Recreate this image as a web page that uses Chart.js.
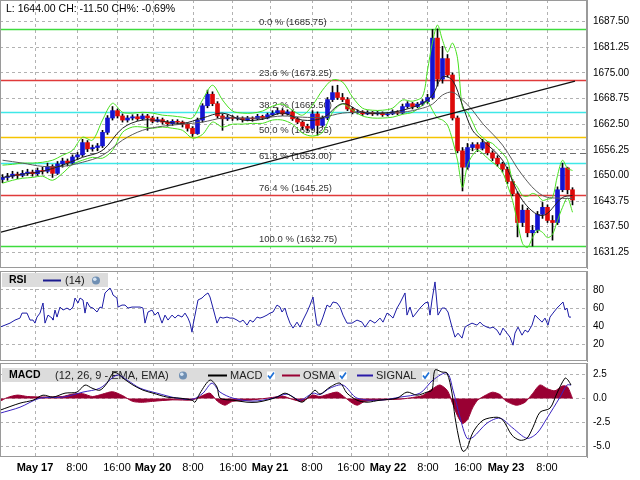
<!DOCTYPE html>
<html>
<head>
<meta charset="utf-8">
<script src="https://cdn.jsdelivr.net/npm/chart.js@4.4.1/dist/chart.umd.min.js"></script>
<style>
html, body { margin: 0; padding: 0; background: #fff; }
#wrap { position: relative; width: 640px; height: 480px; overflow: hidden; }
#wrap canvas { position: absolute; left: 0; }
</style>
</head>
<body>
<div id="wrap">
  <canvas id="main" width="640" height="270" style="top:0"></canvas>
  <canvas id="rsi" width="640" height="92" style="top:270px"></canvas>
  <canvas id="macd" width="640" height="118" style="top:362px"></canvas>
</div>
<script>
// hourly candles (bar slot index on the x axis)
const opens = [
  1649.0,1649.5,1649.8,1650.3,1650.0,1650.5,1650.8,1650.4,1651.2,1651.0,
  1652.2,1650.5,1652.8,1653.5,1653.0,1654.5,1655.0,1658.0,1656.5,1656.8,
  1657.2,1660.5,1664.0,1665.8,1664.5,1663.5,1664.0,1664.3,1663.8,1664.5,
  1664.0,1663.2,1663.6,1663.0,1662.6,1663.2,1663.0,1662.5,1661.5,1660.2,
  1663.5,1667.0,1669.8,1667.5,1664.5,1663.8,1664.2,1663.9,1664.0,1663.6,
  1664.0,1663.8,1664.4,1664.0,1664.8,1665.2,1665.8,1665.0,1665.5,1663.8,
  1663.0,1662.0,1661.5,1665.0,1662.2,1664.0,1668.5,1670.2,1669.0,1668.5,
  1666.2,1665.3,1665.5,1665.0,1665.4,1665.0,1665.2,1664.8,1665.0,1665.5,
  1665.2,1666.8,1667.5,1666.8,1667.4,1668.0,1669.0,1683.5,1673.5,1678.5,
  1674.5,1664.0,1656.0,1652.0,1656.8,1657.5,1656.6,1658.0,1655.5,1654.2,
  1652.8,1651.5,1648.5,1645.5,1638.5,1641.5,1636.0,1636.6,1640.5,1642.2,
  1639.0,1638.5,1646.5,1651.8,1646.5
];
const highs = [
  1650.2,1650.5,1651.0,1650.8,1651.2,1651.5,1651.3,1651.8,1652.0,1653.0,
  1652.6,1653.4,1654.2,1654.0,1655.0,1655.6,1658.8,1658.5,1657.4,1657.8,
  1661.0,1664.6,1666.8,1666.2,1665.0,1664.6,1664.8,1664.9,1665.0,1664.9,
  1664.4,1664.2,1664.0,1663.4,1663.6,1663.6,1663.3,1662.8,1661.9,1664.0,
  1667.5,1670.8,1670.4,1668.0,1665.0,1664.8,1664.6,1664.5,1664.3,1664.4,
  1664.3,1664.9,1664.7,1665.2,1665.8,1666.5,1666.3,1666.0,1665.9,1664.2,
  1663.3,1662.5,1665.8,1665.5,1664.5,1669.0,1671.8,1672.0,1670.0,1669.0,
  1666.6,1666.0,1665.8,1665.8,1665.6,1665.6,1665.5,1665.4,1666.0,1665.8,
  1667.4,1668.0,1667.8,1667.8,1668.5,1669.8,1685.6,1685.75,1681.5,1679.5,
  1675.0,1664.5,1656.8,1657.8,1658.0,1658.0,1658.8,1658.2,1656.0,1654.8,
  1653.2,1652.0,1649.0,1646.0,1642.8,1642.0,1637.8,1641.2,1643.4,1642.8,
  1640.2,1647.2,1653.0,1652.0,1647.0
];
const lows = [
  1648.2,1648.8,1649.3,1649.2,1649.6,1650.0,1649.8,1650.0,1650.3,1650.6,
  1649.5,1650.2,1652.0,1652.3,1652.6,1653.8,1654.6,1655.8,1655.9,1656.0,
  1656.8,1660.0,1663.5,1664.0,1663.0,1663.0,1663.5,1663.4,1663.5,1661.0,
  1662.8,1663.0,1662.5,1662.0,1662.2,1662.5,1661.8,1660.8,1659.5,1660.0,
  1663.0,1666.5,1667.0,1664.0,1661.0,1663.4,1663.4,1663.5,1663.0,1663.3,
  1663.2,1663.6,1663.6,1663.8,1664.5,1664.9,1664.6,1664.7,1663.4,1662.6,
  1661.2,1660.8,1661.2,1659.8,1661.8,1663.6,1668.0,1668.5,1668.0,1665.8,
  1665.0,1665.0,1664.6,1664.8,1664.6,1664.7,1664.4,1664.5,1664.8,1664.8,
  1665.0,1666.4,1666.2,1666.5,1667.0,1667.6,1668.6,1671.8,1672.5,1674.0,
  1663.5,1655.5,1646.2,1651.5,1656.0,1655.8,1656.2,1655.0,1653.6,1652.2,
  1650.8,1648.0,1645.0,1635.0,1637.5,1635.0,1632.75,1636.0,1639.5,1638.5,
  1634.2,1638.0,1646.0,1645.5,1642.8
];
const closes = [
  1649.5,1649.8,1650.3,1650.0,1650.5,1650.8,1650.4,1651.2,1651.0,1652.2,
  1650.5,1652.8,1653.5,1653.0,1654.5,1655.0,1658.0,1656.5,1656.8,1657.2,
  1660.5,1664.0,1665.8,1664.5,1663.5,1664.0,1664.3,1663.8,1664.5,1664.0,
  1663.2,1663.6,1663.0,1662.6,1663.2,1663.0,1662.5,1661.5,1660.2,1663.5,
  1667.0,1669.8,1667.5,1664.5,1663.8,1664.2,1663.9,1664.0,1663.6,1664.0,
  1663.8,1664.4,1664.0,1664.8,1665.2,1665.8,1665.0,1665.5,1663.8,1663.0,
  1662.0,1661.5,1665.0,1662.2,1664.0,1668.5,1670.2,1669.0,1668.5,1666.2,
  1665.3,1665.5,1665.0,1665.4,1665.0,1665.2,1664.8,1665.0,1665.5,1665.2,
  1666.8,1667.5,1666.8,1667.4,1668.0,1669.0,1683.5,1673.5,1678.5,1674.5,
  1664.0,1656.0,1652.0,1656.8,1657.5,1656.6,1658.0,1655.5,1654.2,1652.8,
  1651.5,1648.5,1645.5,1638.5,1641.5,1636.0,1636.6,1640.5,1642.2,1639.0,
  1638.5,1646.5,1651.8,1646.5,1644.0
];

// envelope bands (green)
const bandIdx = [
  0,2,4,6,8,10,12,14,16,18,20,22,24,26,28,30,32,34,36,38,40,42,44,46,48,50,52,54,56,58,
  60,62,64,66,68,70,72,74,76,78,80,82,84,
  85,86,87,88,89,90,91,92,93,94,95,96,97,98,99,100,101,102,103,104,105,106,107,108,109,110,111,112,113,114
];
const bandUpper = [
  1652.5,1652.7,1653.0,1653.0,1653.2,1653.7,1654.9,1656.1,1659.3,1658.6,
  1663.5,1667.6,1665.4,1665.2,1665.4,1665.2,1664.7,1664.5,1664.2,1664.0,
  1668.4,1672.0,1668.4,1665.7,1665.2,1665.2,1665.7,1666.9,1667.4,1665.9,
  1664.7,1667.1,1670.8,1673.3,1672.8,1669.1,1666.4,1665.9,1665.9,1666.4,
  1668.4,1668.1,1669.3,
  1675.7,1682.5,1686.7,1683.0,1680.1,1682.3,1678.6,1666.4,1665.4,1663.0,
  1660.5,1659.3,1658.3,1657.8,1656.6,1655.4,1653.7,1648.8,1647.1,1645.1,
  1644.9,1645.6,1645.1,1643.9,1644.2,1644.6,1650.0,1653.7,1651.7,1651.2
];
const bandLower = [
  1648.1,1648.8,1649.3,1649.5,1649.8,1648.8,1650.5,1652.7,1653.7,1654.4,
  1654.2,1656.1,1660.5,1661.8,1661.8,1661.5,1661.8,1661.5,1661.0,1659.1,
  1660.0,1663.0,1661.8,1662.5,1662.5,1662.7,1662.7,1663.5,1663.5,1662.5,
  1660.3,1659.6,1660.5,1665.4,1667.4,1665.9,1664.5,1664.0,1664.0,1664.2,
  1664.9,1665.4,1667.1,
  1668.0,1665.9,1664.0,1663.5,1662.3,1658.6,1653.7,1647.1,1652.5,1654.9,
  1656.1,1655.4,1654.2,1653.2,1652.2,1650.8,1647.6,1643.9,1638.5,1633.4,
  1632.4,1634.8,1636.6,1636.1,1634.8,1635.6,1639.0,1642.2,1644.5,1641.0
];

// moving averages
const maIdx = [0,4,8,12,16,20,24,28,32,36,40,44,48,52,56,60,64,68,72,76,80,84,86,88,90,92,94,96,100,104,108,112,114];
const maFast = [
  1649.5,1650.3,1651.0,1652.5,1654.4,1656.1,1661.5,1663.5,1663.2,1662.7,
  1664.0,1665.2,1663.5,1663.7,1665.2,1663.5,1664.0,1667.5,1665.4,1665.2,
  1665.9,1667.6,1669.6,1674.0,1673.2,1667.1,1661.0,1658.6,1653.7,1643.9,
  1640.2,1644.6,1645.1
];
const maSlow = [
  1653.7,1653.0,1652.2,1652.2,1653.2,1654.9,1658.6,1661.0,1662.0,1662.5,
  1663.0,1664.0,1664.0,1664.0,1664.5,1664.2,1664.2,1665.2,1665.4,1665.2,
  1665.4,1666.4,1667.4,1669.6,1670.3,1668.4,1665.9,1662.7,1657.4,1650.0,
  1645.1,1644.4,1644.4
];

// trend line end points
const trendIdx = [-0.5, 114.5];
const trendVal = [1636.1, 1673.0];

// fibonacci retracement
const fibPct = [0, 23.6, 38.2, 50, 61.8, 76.4, 100];
const fibPrice = [1685.75, 1673.25, 1665.50, 1659.25, 1653.00, 1645.25, 1632.75];
const prevClose = 1655.5;
const lastPrice = 1644.00, change = -11.50, changePct = -0.69;

// RSI (14)
const rsiIdx = [
  -0.5,0.5,1.5,2.5,3.5,3.9,4.9,5.5,6.1,6.5,
  6.9,7.5,8.1,8.5,9.1,9.9,10.1,10.5,10.9,11.5,
  12.1,12.9,13.5,14.1,14.5,15.1,15.5,16.1,16.5,16.9,
  17.5,18.1,18.9,19.5,19.9,20.5,21.1,21.5,21.9,22.1,
  22.9,23.1,23.9,24.5,25.1,25.9,26.9,27.5,28.1,28.5,
  29.1,29.9,30.5,31.1,31.9,32.5,33.1,33.9,34.5,35.1,
  35.9,36.5,37.1,37.5,37.9,38.1,38.5,39.1,39.9,40.5,
  41.1,41.5,42.1,42.9,43.5,44.1,44.9,45.5,46.1,46.9,
  47.5,48.1,48.9,49.5,50.1,50.9,51.5,52.1,52.9,53.5,
  54.1,54.9,55.5,55.9,56.5,56.9,57.5,58.1,58.9,59.5,
  60.1,60.9,61.5,62.1,62.5,62.9,63.5,64.1,64.9,65.5,
  66.1,66.9,67.5,68.1,68.9,69.9,70.9,71.9,72.5,73.5,
  74.5,75.5,76.1,76.9,77.5,78.1,78.9,79.5,80.5,80.9,
  81.5,82.1,82.9,83.5,84.5,85.1,85.5,85.9,86.5,87.1,
  87.9,88.5,89.1,89.9,90.5,91.1,91.9,92.5,93.1,93.9,
  94.9,95.5,96.1,96.9,97.5,98.1,98.9,99.5,100.1,100.9,
  101.5,102.1,102.5,103.1,103.9,104.5,105.1,105.9,106.5,107.1,
  107.9,108.5,109.1,109.5,110.1,110.9,111.5,112.1,112.5,112.9,
  113.3,113.7
];
const rsiVal = [
  38.9,41.1,43.3,46.7,48.9,54.4,54.4,46.7,46.7,43.3,
  50.0,54.4,65.6,43.3,52.2,48.9,46.7,57.8,50.0,61.1,
  57.8,60.0,57.8,61.1,71.1,65.6,71.1,68.9,54.4,66.7,
  61.1,60.0,55.6,61.1,60.0,76.7,80.0,82.2,77.8,74.4,
  71.1,61.1,63.3,63.3,60.0,61.1,61.1,61.1,60.0,43.3,
  55.6,57.8,52.2,55.6,43.3,52.2,46.7,52.2,48.9,52.2,
  50.0,54.4,48.9,43.3,33.3,41.1,52.2,68.9,71.1,74.4,
  76.7,72.2,60.0,43.3,50.0,48.9,50.0,48.9,48.9,46.7,
  44.4,46.7,41.1,46.7,44.4,50.0,48.9,50.0,52.2,54.4,
  55.6,63.3,61.1,55.6,60.0,52.2,43.3,37.8,44.4,38.9,
  46.7,55.6,63.3,72.2,55.6,41.1,41.1,50.0,63.3,61.1,
  66.7,65.6,61.1,52.2,43.3,43.3,46.7,44.4,38.9,46.7,
  43.3,48.9,44.4,54.4,52.2,48.9,60.0,65.6,76.7,52.2,
  61.1,50.0,55.6,60.0,65.6,66.7,52.2,68.9,88.9,52.2,
  60.0,60.0,55.6,38.9,27.8,32.2,26.7,38.9,41.1,43.3,
  41.1,44.4,41.1,38.9,37.8,38.9,35.6,30.0,37.8,32.2,
  27.8,18.9,32.2,38.9,30.0,35.6,33.3,41.1,52.2,48.9,
  44.4,48.9,41.1,50.0,54.4,60.0,63.3,66.7,57.8,60.0,
  50.0,50.0
];

// MACD (12, 26, 9)
const macdIdx = [
  -0.5,3.5,6.1,8.1,10.1,12.5,14.9,16.5,17.9,19.5,
  20.9,22.1,22.9,24.1,26.1,28.1,30.1,32.9,35.5,37.9,
  38.5,39.5,41.5,42.9,43.5,46.1,48.9,50.9,52.9,54.9,
  56.5,58.1,59.9,61.5,62.5,63.5,65.5,67.5,68.9,70.9,
  72.9,75.5,78.9,80.9,82.9,84.9,85.9,86.5,87.9,88.9,
  89.9,90.5,91.5,92.1,92.9,94.1,96.1,98.9,100.1,101.9,
  103.5,104.9,106.1,107.5,109.5,110.9,112.5,113.1,113.7
];
const macdVal = [
  -1.22,-0.49,-0.18,0.34,0.14,0.55,0.66,1.39,1.07,0.86,
  1.59,2.64,2.64,2.11,1.39,0.86,0.55,0.14,0.03,-0.18,
  -0.39,0.55,1.91,1.18,0.03,-0.18,-0.39,-0.39,-0.18,0.14,
  0.55,0.14,-0.39,0.34,0.86,0.45,1.18,1.59,0.55,-0.18,
  -0.39,-0.18,0.03,0.66,0.34,0.66,0.86,2.95,2.74,2.64,
  0.55,-1.95,-4.66,-5.49,-5.18,-3.51,-2.26,-1.95,-2.26,-3.82,
  -4.34,-4.14,-2.99,-1.43,-1.01,0.55,2.11,1.91,1.39
];
const sigIdx = [
  -0.5,3.5,7.5,12.1,16.1,19.5,22.9,24.9,27.5,30.9,
  34.9,38.1,40.1,41.9,43.5,46.1,50.1,54.1,56.9,59.5,
  62.1,63.5,65.5,68.1,70.9,75.5,79.5,83.5,86.1,88.9,
  90.1,91.5,92.9,94.1,96.9,99.5,102.1,104.9,106.9,108.9,
  111.5,112.9,113.7
];
const sigVal = [
  -1.53,-0.91,0.03,0.14,0.66,1.07,2.43,1.91,1.07,0.55,
  0.03,-0.07,0.55,1.59,0.66,0.03,-0.28,0.03,0.45,-0.18,
  0.55,0.40,1.07,1.39,0.03,-0.18,0.14,0.55,1.91,2.64,
  0.86,-1.95,-4.14,-4.03,-2.57,-2.05,-3.09,-4.14,-3.61,-2.05,
  0.14,1.39,1.39
];
const osmaIdx = [
  -0.5,1,3,5,8,12,14,16,18,20,
  22,24,26,28,30,34,38,40,41.5,43,
  44.5,46,50,54,56,58,60,62,63.5,65.5,
  67,68.5,70,71,72.5,76,80,82,84,86,
  87.5,89,90,91,92,93,94,95,96.5,98,
  99.5,100.5,102,103,104.5,106,107.5,109,110.5,112,
  113,114
];
const osmaVal = [
  -0.3,0.1,0.35,0.2,0.15,0.2,0.45,0.5,0.2,0.45,
  0.7,0.3,-0.3,-0.4,-0.3,-0.15,-0.15,0.3,0.55,-0.3,
  -0.7,-0.3,-0.15,0.1,0.25,-0.1,-0.3,0.35,0.2,0.5,
  0.65,0.1,-0.5,-0.7,-0.3,-0.15,-0.05,0.1,0.3,1.0,
  1.4,0.8,-0.5,-1.8,-2.6,-2.2,-1.0,-0.2,0.3,0.65,
  0.4,-0.2,-0.6,-0.7,-0.4,0.5,1.4,1.0,0.8,1.3,
  1.2,0
];

// axis ticks
const timeTickPos = [6.5, 14.9, 22.9, 30.1, 38.1, 46.1, 53.5, 61.9, 69.7, 77.1, 85.1, 93.1, 100.7, 108.9];
const timeTickLabels = ['May 17','8:00','16:00','May 20','8:00','16:00','May 21','8:00','16:00','May 22','8:00','16:00','May 23','8:00'];
const priceTicks = [1631.25, 1637.5, 1643.75, 1650, 1656.25, 1662.5, 1668.75, 1675, 1681.25, 1687.5];
const rsiTicks = [20, 40, 60, 80];
const macdTicks = [-5, -2.5, 0, 2.5];

Chart.defaults.font.family = '"Liberation Sans", Arial, sans-serif';
Chart.defaults.animation = false;

const GRID = '#b2b2b2';
const fibColors = ['#3ddc3d', '#e03a3a', '#3ee8e8', '#f5c400', '#3ee8e8', '#e03a3a', '#3ddc3d'];

const pts = (xs, ys) => xs.map((x, i) => ({x: x, y: ys[i]}));
const candleIdx = closes.map((c, i) => i);

function noPad(axis) {
  axis.paddingTop = 0; axis.paddingBottom = 0;
  axis.paddingLeft = 0; axis.paddingRight = 0;
}
function timeAxis(showLabels) {
  return {
    type: 'linear', min: -0.5, max: 116.9, offset: false,
    afterBuildTicks: axis => { axis.ticks = timeTickPos.map(v => ({value: v})); },
    afterFit: axis => { axis.height = showLabels ? 23 : 0; noPad(axis); },
    grid: {color: GRID, drawTicks: false, offset: false},
    border: {display: false, dash: [3, 3]},
    ticks: {
      display: showLabels, autoSkip: false, maxRotation: 0, padding: 4, color: '#000',
      callback: (v, i) => timeTickLabels[i],
      font: ctx => ({size: 11, weight: (timeTickLabels[ctx.index] || '').startsWith('May') ? 'bold' : 'normal'})
    }
  };
}
function valueAxis(min, max, tickList, fmt) {
  return {
    position: 'right', min: min, max: max,
    afterBuildTicks: axis => { axis.ticks = tickList.map(v => ({value: v})); },
    afterFit: axis => { axis.width = 53; noPad(axis); },
    grid: {color: GRID, drawTicks: false},
    border: {display: true, color: '#9a9a9a', dash: [3, 3]},
    ticks: {padding: 6, color: '#000', font: {size: 10}, callback: v => fmt(v)}
  };
}
const framePlugin = {
  id: 'frame',
  afterDraw(chart) {
    const {ctx, chartArea: a} = chart;
    ctx.save();
    ctx.strokeStyle = '#9a9a9a';
    ctx.lineWidth = 1;
    ctx.strokeRect(a.left + 0.5, a.top + 0.5, a.right - a.left - 1, a.bottom - a.top - 1);
    ctx.restore();
  }
};
function globe(ctx, x, y) {
  ctx.beginPath(); ctx.arc(x, y, 4, 0, 2 * Math.PI); ctx.fillStyle = '#6f8fb3'; ctx.fill();
  ctx.beginPath(); ctx.arc(x - 1.2, y - 1.2, 1.8, 0, 2 * Math.PI); ctx.fillStyle = '#d4e3f2'; ctx.fill();
}
function check(ctx, x, y) {
  ctx.fillStyle = '#fff'; ctx.fillRect(x - 4, y - 4, 8, 8);
  ctx.strokeStyle = '#1e70d6'; ctx.lineWidth = 1.7;
  ctx.beginPath(); ctx.moveTo(x - 3, y); ctx.lineTo(x - 1, y + 2.5); ctx.lineTo(x + 3, y - 3); ctx.stroke();
}
function sample(ctx, x1, x2, y, color) {
  ctx.strokeStyle = color; ctx.lineWidth = 2;
  ctx.beginPath(); ctx.moveTo(x1, y); ctx.lineTo(x2, y); ctx.stroke();
}

// ---------- main price panel ----------
const fibPlugin = {
  id: 'fib',
  beforeDatasetsDraw(chart) {
    const {ctx, chartArea: a, scales: {y}} = chart;
    ctx.save();
    ctx.beginPath(); ctx.rect(a.left, a.top, a.right - a.left, a.bottom - a.top); ctx.clip();
    const py = Math.round(y.getPixelForValue(prevClose)) + 0.5;
    ctx.strokeStyle = '#6e6e6e'; ctx.lineWidth = 1; ctx.setLineDash([6, 4]);
    ctx.beginPath(); ctx.moveTo(a.left, py); ctx.lineTo(a.right, py); ctx.stroke();
    ctx.setLineDash([]);
    ctx.font = '9.5px "Liberation Sans", Arial, sans-serif';
    ctx.textBaseline = 'bottom';
    fibPrice.forEach((p, i) => {
      const yy = Math.round(y.getPixelForValue(p)) + 0.5;
      ctx.strokeStyle = fibColors[i]; ctx.lineWidth = 1.3;
      ctx.beginPath(); ctx.moveTo(a.left, yy); ctx.lineTo(a.right, yy); ctx.stroke();
      ctx.fillStyle = '#333';
      ctx.fillText(fibPct[i].toFixed(1) + ' % (' + p.toFixed(2) + ')', 259, yy - 2);
    });
    ctx.restore();
  },
  afterDraw(chart) {
    const ctx = chart.ctx;
    ctx.save();
    ctx.fillStyle = '#000';
    ctx.font = '10.5px "Liberation Sans", Arial, sans-serif';
    ctx.textBaseline = 'middle';
    ctx.fillText('L: ' + lastPrice.toFixed(2) + ' CH: ' + change.toFixed(2) + ' CH%: ' + changePct.toFixed(2) + '%', 6, 9);
    ctx.restore();
  }
};

new Chart(document.getElementById('main'), {
  type: 'bar',
  data: {
    datasets: [
      {type: 'line', data: pts(trendIdx, trendVal), borderColor: '#111', borderWidth: 1.3, pointRadius: 0, order: 0},
      {type: 'line', data: pts(maIdx, maFast), borderColor: '#222', borderWidth: 1, pointRadius: 0, tension: 0.35, order: 1},
      {type: 'line', data: pts(maIdx, maSlow), borderColor: '#5a5a5a', borderWidth: 1, pointRadius: 0, tension: 0.35, order: 1},
      {type: 'line', data: pts(bandIdx, bandUpper), borderColor: '#47e01e', borderWidth: 1, pointRadius: 0, tension: 0.3, order: 2},
      {type: 'line', data: pts(bandIdx, bandLower), borderColor: '#47e01e', borderWidth: 1, pointRadius: 0, tension: 0.3, order: 2},
      {
        data: candleIdx.map(i => ({x: i, y: [opens[i], closes[i]]})),
        backgroundColor: candleIdx.map(i => closes[i] >= opens[i] ? '#1414d2' : '#dd0a0a'),
        barThickness: 4, grouped: false, order: 3
      },
      {
        data: candleIdx.map(i => ({x: i, y: [lows[i], highs[i]]})),
        backgroundColor: '#000', barThickness: 1, grouped: false, order: 4
      }
    ]
  },
  options: {
    responsive: false,
    layout: {padding: {top: 0, bottom: 2, left: 0, right: 0}},
    plugins: {legend: {display: false}, tooltip: {enabled: false}},
    scales: {
      x: timeAxis(false),
      y: valueAxis(1627.4, 1692.8, priceTicks, v => v.toFixed(2))
    }
  },
  plugins: [fibPlugin, framePlugin]
});

// ---------- RSI panel ----------
const rsiLegend = {
  id: 'rsiLegend',
  beforeDatasetsDraw(chart) {
    const ctx = chart.ctx;
    ctx.save();
    ctx.fillStyle = '#dcdcdc';
    ctx.fillRect(2, 3, 106, 14);
    ctx.textBaseline = 'middle';
    ctx.fillStyle = '#000';
    ctx.font = 'bold 10.5px "Liberation Sans", Arial, sans-serif';
    ctx.fillText('RSI', 9, 10.5);
    sample(ctx, 43, 61, 10.5, '#1b1b8f');
    ctx.fillStyle = '#222';
    ctx.font = '11px "Liberation Sans", Arial, sans-serif';
    ctx.fillText('(14)', 65, 10.5);
    globe(ctx, 96, 10.5);
    ctx.restore();
  }
};
new Chart(document.getElementById('rsi'), {
  type: 'line',
  data: {
    datasets: [
      {data: pts(rsiIdx, rsiVal), borderColor: '#1c1ca6', borderWidth: 1, pointRadius: 0, tension: 0}
    ]
  },
  options: {
    responsive: false,
    layout: {padding: {top: 1, bottom: 1, left: 0, right: 0}},
    plugins: {legend: {display: false}, tooltip: {enabled: false}},
    scales: {
      x: timeAxis(false),
      y: valueAxis(1.4, 101, rsiTicks, v => String(v))
    }
  },
  plugins: [rsiLegend, framePlugin]
});

// ---------- MACD panel ----------
const macdLegend = {
  id: 'macdLegend',
  beforeDatasetsDraw(chart) {
    const ctx = chart.ctx;
    ctx.save();
    ctx.fillStyle = '#dcdcdc';
    ctx.fillRect(2, 6, 436, 14);
    ctx.textBaseline = 'middle';
    ctx.fillStyle = '#000';
    ctx.font = 'bold 10.5px "Liberation Sans", Arial, sans-serif';
    ctx.fillText('MACD', 9, 13.5);
    ctx.fillStyle = '#222';
    ctx.font = '11px "Liberation Sans", Arial, sans-serif';
    ctx.fillText('(12, 26, 9 - EMA, EMA)', 55, 13.5);
    globe(ctx, 183, 13.5);
    sample(ctx, 208, 227, 13.5, '#000');
    ctx.fillStyle = '#222';
    ctx.fillText('MACD', 230, 13.5);
    check(ctx, 271, 13.5);
    sample(ctx, 282, 300, 13.5, '#990033');
    ctx.fillStyle = '#222';
    ctx.fillText('OSMA', 303, 13.5);
    check(ctx, 343, 13.5);
    sample(ctx, 357, 373, 13.5, '#2a1aa8');
    ctx.fillStyle = '#222';
    ctx.fillText('SIGNAL', 376, 13.5);
    check(ctx, 426, 13.5);
    ctx.restore();
  }
};
new Chart(document.getElementById('macd'), {
  type: 'line',
  data: {
    datasets: [
      {data: pts(macdIdx, macdVal), borderColor: '#000', borderWidth: 1, pointRadius: 0, tension: 0.3, order: 0},
      {data: pts(sigIdx, sigVal), borderColor: '#3a22c0', borderWidth: 1, pointRadius: 0, tension: 0.3, order: 1},
      {data: pts(osmaIdx, osmaVal), borderColor: '#990033', backgroundColor: '#990033', borderWidth: 1,
       pointRadius: 0, tension: 0.25, fill: 'origin', order: 2}
    ]
  },
  options: {
    responsive: false,
    layout: {padding: {top: 1, bottom: 0, left: 0, right: 0}},
    plugins: {legend: {display: false}, tooltip: {enabled: false}},
    scales: {
      x: timeAxis(true),
      y: valueAxis(-6.08, 3.68, macdTicks, v => v.toFixed(1))
    }
  },
  plugins: [macdLegend, framePlugin]
});
</script>
</body>
</html>
